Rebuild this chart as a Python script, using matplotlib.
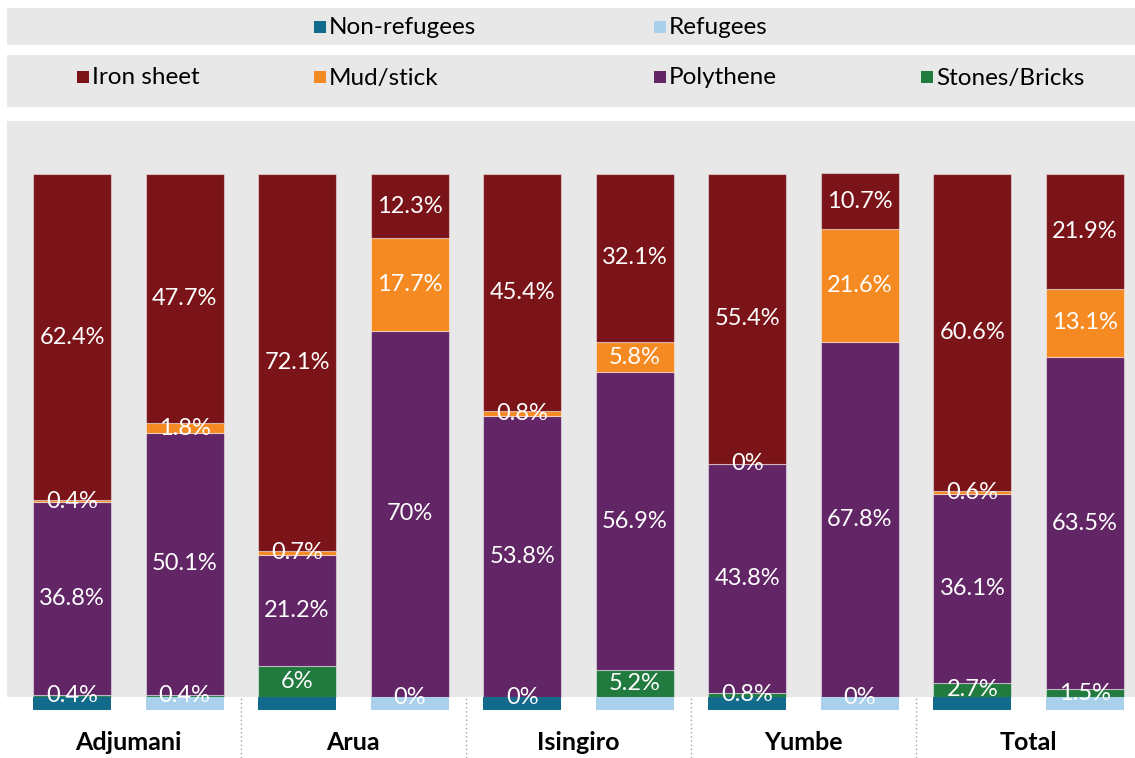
import matplotlib.pyplot as plt
from matplotlib.patches import Rectangle

plt.rcParams['font.family'] = ['Lato', 'DejaVu Sans']

# data
districts = ['Adjumani', 'Arua', 'Isingiro', 'Yumbe', 'Total']
groups = ['Non-refugees', 'Refugees']
materials = ['Stones/Bricks', 'Polythene', 'Mud/stick', 'Iron sheet']
# one list per material, bars ordered district by district (non-refugee, refugee)
stones = [0.4, 0.4, 6, 0, 0, 5.2, 0.8, 0, 2.7, 1.5]
polythene = [36.8, 50.1, 21.2, 70, 53.8, 56.9, 43.8, 67.8, 36.1, 63.5]
mud = [0.4, 1.8, 0.7, 17.7, 0.8, 5.8, 0, 21.6, 0.6, 13.1]
iron = [62.4, 47.7, 72.1, 12.3, 45.4, 32.1, 55.4, 10.7, 60.6, 21.9]

mat_colors = {'Stones/Bricks': '#217a3e', 'Polythene': '#622566',
              'Mud/stick': '#f58a22', 'Iron sheet': '#7b1418'}
grp_colors = {'Non-refugees': '#136b8c', 'Refugees': '#a9d1ec'}
bg = '#e8e8e8'

W, H = 1135, 758
fig = plt.figure(figsize=(W / 100, H / 100), dpi=100)

# axes placed in pixel terms
ax_left, ax_right, ax_top, ax_bot = 7, 1135, 121, 758
ax = fig.add_axes([ax_left / W, 1 - ax_bot / H, (ax_right - ax_left) / W, (ax_bot - ax_top) / H])
ax.set_facecolor('white')

ppu = (697 - 174) / 100.0  # pixels per percent
ymax = (697 - ax_top) / ppu
ymin = -(ax_bot - 697) / ppu
bar_sp = 112.55
x0 = 72
ax.set_xlim((ax_left - x0) / bar_sp, (ax_right - x0) / bar_sp)
ax.set_ylim(ymin, ymax)
ax.axhspan(0, ymax, color=bg, zorder=0, lw=0)

xs = list(range(len(iron)))
width = 78 / bar_sp
series = {'Stones/Bricks': stones, 'Polythene': polythene, 'Mud/stick': mud, 'Iron sheet': iron}
bottom = [0.0] * len(xs)
for m in materials:
    vals = series[m]
    ax.bar(xs, vals, width, bottom=bottom, color=mat_colors[m],
           edgecolor=(1, 1, 1, 0.45), lw=0.8, zorder=2)
    for i, v in enumerate(vals):
        lbl = ('%g' % v) + '%'
        ax.text(xs[i], bottom[i] + v / 2, lbl, ha='center', va='center',
                color='white', fontsize=17, zorder=4)
    bottom = [b + v for b, v in zip(bottom, vals)]

# group indicator strip below the bars
ind_h = 13 / ppu
for i in xs:
    g = groups[i % 2]
    ax.bar(i, -ind_h, width, bottom=0, color=grp_colors[g], lw=0, zorder=3)

# district labels and separators
for k, d in enumerate(districts):
    ax.text(2 * k + 0.5, -(743 - 697) / ppu, d, ha='center', va='center',
            fontsize=18, fontweight='bold', color='black')
for k in range(1, len(districts)):
    ax.plot([2 * k - 0.5, 2 * k - 0.5], [ymin, 0], ls=(0, (1, 2)), color='#a0a0a0', lw=1, zorder=1)

ax.set_xticks([])
ax.set_yticks([])
for s in ax.spines.values():
    s.set_visible(False)

# legends as two grey boxes
def px_rect(x, y, w, h, color):
    fig.patches.append(Rectangle((x / W, 1 - (y + h) / H), w / W, h / H,
                                 transform=fig.transFigure, color=color, lw=0))

px_rect(7, 8, 1128, 37, bg)
px_rect(7, 55, 1128, 52, bg)

leg1_x = [314, 654]
for g, x in zip(groups, leg1_x):
    px_rect(x, 21, 12, 12, grp_colors[g])
    fig.text((x + 15) / W, 1 - 27 / H, g, ha='left', va='center', fontsize=17.5)

leg2_x = [77, 314, 654, 921]
for m, x in zip(['Iron sheet', 'Mud/stick', 'Polythene', 'Stones/Bricks'], leg2_x):
    px_rect(x, 71, 12, 12, mat_colors[m])
    fig.text((x + 15) / W, 1 - 78 / H, m, ha='left', va='center', fontsize=17.5)

fig.savefig('out.png', dpi=100)
